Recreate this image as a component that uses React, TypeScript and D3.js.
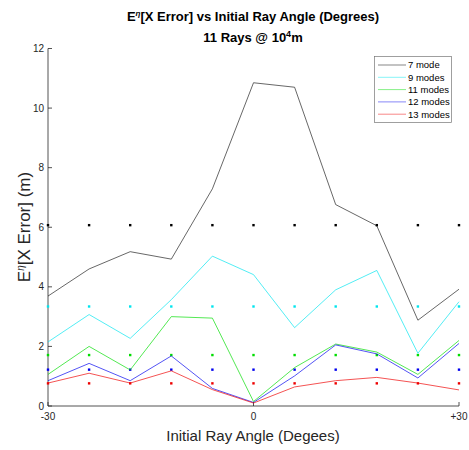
import React from "react";
import * as d3 from "d3";

const angles = [-30, -24, -18, -12, -6, 0, 6, 12, 18, 24, 30];
const seriesNames = ["7 mode", "9 modes", "11 modes", "12 modes", "13 modes"];
const seriesColors = ["#000000", "#00e5ee", "#00dd00", "#0000ee", "#ee0000"];
const mode7 = [3.69, 4.6, 5.18, 4.93, 7.29, 10.85, 10.7, 6.76, 6.05, 2.88, 3.92];
const mode9 = [2.15, 3.07, 2.27, 3.57, 5.03, 4.41, 2.63, 3.9, 4.55, 1.77, 3.5];
const mode11 = [1.06, 2.0, 1.21, 3.0, 2.95, 0.15, 1.29, 2.08, 1.81, 1.06, 2.2];
const mode12 = [0.85, 1.43, 0.85, 1.68, 0.59, 0.12, 1.01, 2.05, 1.75, 0.94, 2.1];
const mode13 = [0.77, 1.1, 0.77, 1.18, 0.55, 0.1, 0.64, 0.85, 0.96, 0.77, 0.54];
const dotLevels = [6.07, 3.34, 1.71, 1.22, 0.76];
const yTicks = [0, 2, 4, 6, 8, 10, 12];
const xTicks = [-30, 0, 30];
const xTickLabels = ["-30", "0", "+30"];

const series = [mode7, mode9, mode11, mode12, mode13];

export default function App() {
  const width = 469;
  const height = 450;
  const margin = { left: 48, right: 10, top: 48.5, bottom: 44 };

  const x = d3.scaleLinear().domain([-30, 30]).range([margin.left, width - margin.right]);
  const y = d3.scaleLinear().domain([0, 12]).range([height - margin.bottom, margin.top]);

  const line = d3
    .line<number>()
    .x((_, i) => x(angles[i]))
    .y((d) => y(d));

  const font = "'Liberation Sans', Arial, Helvetica, sans-serif";
  const axisColor = "#262626";
  const y0 = y(0);

  return (
    <svg
      width={width}
      height={height}
      style={{ position: "absolute", left: 0, top: 0, background: "#fff" }}
      fontFamily={font}
    >
      {/* title */}
      <text x={253} y={21} textAnchor="middle" fontSize={13} fontWeight="bold" fill="#000">
        E<tspan dy={-5} fontSize={8} fontStyle="italic">η</tspan>
        <tspan dy={5}>[X Error] vs Initial Ray Angle (Degrees)</tspan>
      </text>
      <text x={253} y={42} textAnchor="middle" fontSize={13} fontWeight="bold" fill="#000">
        11 Rays @ 10<tspan dy={-5} fontSize={9}>4</tspan>
        <tspan dy={5}>m</tspan>
      </text>

      {/* axes */}
      <line x1={x(-30)} x2={x(30)} y1={y0} y2={y0} stroke={axisColor} strokeWidth={0.8} />
      <line x1={x(-30)} x2={x(-30)} y1={y(0)} y2={y(12)} stroke={axisColor} strokeWidth={0.8} />
      {yTicks.map((t) => (
        <g key={"y" + t}>
          <line x1={x(-30)} x2={x(-30) + 4} y1={y(t)} y2={y(t)} stroke={axisColor} strokeWidth={0.8} />
          <text x={x(-30) - 4} y={y(t) + 3.5} textAnchor="end" fontSize={10} fill={axisColor}>
            {t}
          </text>
        </g>
      ))}
      {xTicks.map((t, i) => (
        <g key={"x" + t}>
          <line x1={x(t)} x2={x(t)} y1={y0} y2={y0 - 4} stroke={axisColor} strokeWidth={0.8} />
          <text x={x(t)} y={y0 + 14} textAnchor="middle" fontSize={10} fill={axisColor}>
            {xTickLabels[i]}
          </text>
        </g>
      ))}

      {/* axis labels */}
      <text x={253} y={441} textAnchor="middle" fontSize={15} fill={axisColor}>
        Initial Ray Angle (Degees)
      </text>
      <text
        transform={`translate(30,${227}) rotate(-90)`}
        textAnchor="middle"
        fontSize={17}
        fill={axisColor}
      >
        E<tspan dy={-6} fontSize={10} fontStyle="italic">η</tspan>
        <tspan dy={6}>[X Error] (m)</tspan>
      </text>

      {/* dots */}
      {dotLevels.map((lv, si) =>
        angles.map((a) => (
          <rect
            key={si + "-" + a}
            x={x(a) - 1.2}
            y={y(lv) - 1.2}
            width={2.4}
            height={2.4}
            fill={seriesColors[si]}
          />
        ))
      )}

      {/* lines */}
      {series.map((s, si) => (
        <path
          key={"l" + si}
          d={line(s) || ""}
          fill="none"
          stroke={seriesColors[si]}
          strokeWidth={0.8}
          strokeOpacity={si === 0 ? 0.75 : 0.85}
        />
      ))}

      {/* legend */}
      <rect x={374.5} y={56.5} width={77} height={66} fill="#fff" stroke="#777" strokeWidth={0.7} />
      {seriesNames.map((n, i) => (
        <g key={n}>
          <line
            x1={378}
            x2={406}
            y1={65 + i * 12.3}
            y2={65 + i * 12.3}
            stroke={seriesColors[i]}
            strokeWidth={0.8}
            strokeOpacity={0.6}
          />
          <text x={408} y={65 + i * 12.3 + 3.3} fontSize={9.5} fill="#000">
            {n}
          </text>
        </g>
      ))}
    </svg>
  );
}
